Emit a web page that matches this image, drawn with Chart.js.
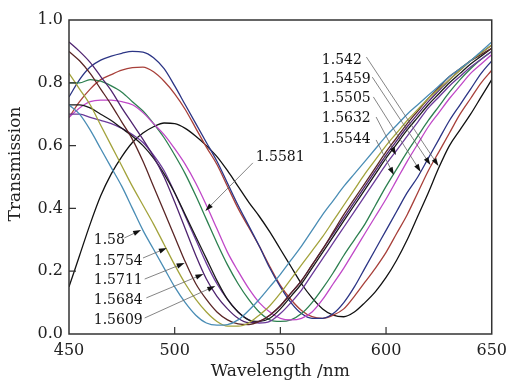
<!DOCTYPE html>
<html>
<head>
<meta charset="utf-8">
<script src="https://cdn.jsdelivr.net/npm/chart.js@4/dist/chart.umd.min.js"></script>
<style>
  html, body { margin: 0; padding: 0; background: #fff; }
</style>
</head>
<body>
<canvas id="grafico-transmissao" width="514" height="385"></canvas>
<script>
// Wavelength grid (nm)
const wavelengths = [450, 455, 460, 465, 470, 475, 480, 485, 490, 495, 500, 505, 510, 515, 520, 525, 530, 535, 540, 545,
  550, 555, 560, 565, 570, 575, 580, 585, 590, 595, 600, 605, 610, 615, 620, 625, 630, 635, 640, 645, 650];

// Transmission curves, one per refractive index
const n1580 = [0.73, 0.70, 0.65, 0.59, 0.53, 0.47, 0.40, 0.33, 0.27, 0.21, 0.15, 0.10, 0.06, 0.035, 0.028, 0.03, 0.045, 0.075, 0.11, 0.15,
  0.19, 0.235, 0.28, 0.33, 0.38, 0.425, 0.47, 0.51, 0.55, 0.59, 0.63, 0.665, 0.70, 0.73, 0.76, 0.79, 0.82, 0.845, 0.87, 0.90, 0.93];
const n15754 = [0.83, 0.78, 0.73, 0.665, 0.60, 0.535, 0.47, 0.41, 0.35, 0.285, 0.22, 0.16, 0.11, 0.07, 0.04, 0.025, 0.025, 0.035, 0.06, 0.09,
  0.13, 0.175, 0.22, 0.265, 0.31, 0.36, 0.41, 0.46, 0.51, 0.555, 0.60, 0.64, 0.68, 0.715, 0.75, 0.78, 0.81, 0.84, 0.87, 0.895, 0.92];
const n15711 = [0.90, 0.87, 0.83, 0.78, 0.73, 0.675, 0.62, 0.55, 0.47, 0.39, 0.31, 0.23, 0.16, 0.11, 0.07, 0.045, 0.032, 0.03, 0.04, 0.06,
  0.09, 0.13, 0.17, 0.22, 0.27, 0.325, 0.38, 0.43, 0.48, 0.53, 0.58, 0.625, 0.67, 0.71, 0.75, 0.785, 0.82, 0.845, 0.87, 0.89, 0.91];
const n15684 = [0.93, 0.90, 0.865, 0.82, 0.775, 0.72, 0.67, 0.62, 0.565, 0.50, 0.42, 0.335, 0.25, 0.175, 0.12, 0.08, 0.05, 0.036, 0.04, 0.06,
  0.09, 0.13, 0.17, 0.22, 0.27, 0.32, 0.37, 0.42, 0.47, 0.52, 0.57, 0.615, 0.66, 0.70, 0.74, 0.775, 0.81, 0.84, 0.87, 0.895, 0.92];
const n15632 = [0.73, 0.73, 0.72, 0.70, 0.68, 0.655, 0.63, 0.60, 0.56, 0.51, 0.45, 0.38, 0.31, 0.24, 0.17, 0.11, 0.07, 0.045, 0.04, 0.05,
  0.08, 0.12, 0.16, 0.21, 0.26, 0.31, 0.36, 0.41, 0.46, 0.51, 0.56, 0.605, 0.65, 0.69, 0.73, 0.765, 0.80, 0.83, 0.86, 0.885, 0.91];
const n15609 = [0.70, 0.70, 0.69, 0.68, 0.67, 0.655, 0.635, 0.61, 0.57, 0.52, 0.45, 0.375, 0.30, 0.225, 0.16, 0.11, 0.07, 0.045, 0.035, 0.04,
  0.065, 0.10, 0.14, 0.19, 0.24, 0.29, 0.34, 0.39, 0.44, 0.49, 0.54, 0.585, 0.63, 0.675, 0.72, 0.755, 0.79, 0.82, 0.85, 0.875, 0.90];
const n15581 = [0.69, 0.72, 0.74, 0.745, 0.745, 0.74, 0.73, 0.705, 0.67, 0.635, 0.59, 0.54, 0.48, 0.41, 0.335, 0.26, 0.20, 0.145, 0.10, 0.07,
  0.05, 0.045, 0.05, 0.07, 0.11, 0.16, 0.21, 0.265, 0.32, 0.375, 0.43, 0.49, 0.55, 0.605, 0.66, 0.705, 0.75, 0.79, 0.83, 0.86, 0.89];
const n15544 = [0.80, 0.80, 0.81, 0.805, 0.79, 0.77, 0.74, 0.71, 0.67, 0.625, 0.57, 0.51, 0.44, 0.365, 0.29, 0.22, 0.16, 0.11, 0.07, 0.045,
  0.04, 0.045, 0.065, 0.10, 0.145, 0.195, 0.25, 0.30, 0.35, 0.41, 0.47, 0.525, 0.58, 0.63, 0.68, 0.725, 0.77, 0.81, 0.845, 0.875, 0.90];
const n15505 = [0.755, 0.81, 0.85, 0.872, 0.885, 0.894, 0.90, 0.898, 0.88, 0.845, 0.79, 0.73, 0.67, 0.61, 0.55, 0.48, 0.41, 0.345, 0.28, 0.21,
  0.15, 0.10, 0.065, 0.05, 0.05, 0.065, 0.10, 0.15, 0.21, 0.27, 0.33, 0.39, 0.45, 0.50, 0.56, 0.62, 0.68, 0.73, 0.78, 0.83, 0.87];
const n15459 = [0.69, 0.74, 0.78, 0.81, 0.826, 0.84, 0.848, 0.85, 0.835, 0.805, 0.765, 0.715, 0.655, 0.595, 0.54, 0.47, 0.40, 0.34, 0.28, 0.215,
  0.155, 0.11, 0.075, 0.055, 0.05, 0.06, 0.08, 0.12, 0.165, 0.21, 0.26, 0.32, 0.38, 0.45, 0.52, 0.58, 0.64, 0.70, 0.75, 0.80, 0.84];
const n1542 = [0.15, 0.25, 0.35, 0.44, 0.51, 0.565, 0.61, 0.64, 0.66, 0.672, 0.67, 0.655, 0.63, 0.60, 0.565, 0.52, 0.47, 0.42, 0.375, 0.325,
  0.27, 0.215, 0.16, 0.115, 0.08, 0.06, 0.055, 0.07, 0.10, 0.135, 0.18, 0.235, 0.30, 0.375, 0.45, 0.53, 0.60, 0.65, 0.70, 0.755, 0.81];

const curves = [n1580, n15754, n15711, n15684, n15632, n15609, n15581, n15544, n15505, n15459, n1542];
const curveColors = ['#4a8db5', '#a3a33c', '#5a2626', '#4f2470', '#1a1a1a', '#6b3a9a', '#c048c8', '#2d8050', '#2c3585', '#a8403a', '#111111'];

// Axis ticks
const xTickValues = [500, 550, 600];
const yTickValues = [0.2, 0.4, 0.6, 0.8];

// Refractive index labels: text anchor, arrow tail and arrow tip (data units)
const labelTexts = ['1.542', '1.5459', '1.5505', '1.5632', '1.5544', '1.5581', '1.58', '1.5754', '1.5711', '1.5684', '1.5609'];
const labelAt = [[569.6, 0.873], [569.6, 0.812], [569.6, 0.752], [569.6, 0.688], [569.6, 0.621], [538.3, 0.564],
  [461.7, 0.299], [461.7, 0.232], [461.7, 0.172], [461.7, 0.108], [461.7, 0.045]];
const arrowFrom = [[590.7, 0.882], [593.5, 0.818], [594.0, 0.755], [595.3, 0.691], [595.3, 0.618], [537.0, 0.545],
  [476.2, 0.306], [485.0, 0.242], [485.8, 0.175], [486.6, 0.115], [485.8, 0.051]];
const arrowTo = [[624.8, 0.535], [621.0, 0.538], [616.4, 0.516], [604.7, 0.570], [603.7, 0.506], [514.5, 0.392],
  [484.1, 0.331], [496.3, 0.274], [504.7, 0.226], [513.6, 0.191], [519.2, 0.153]];

const serif = '"DejaVu Serif", "Liberation Serif", serif';

// frame, inward ticks, y title, labels and arrows
const molduraPlugin = {
  id: 'moldura',
  afterDraw(chart) {
    const { ctx, chartArea: a, scales: { x, y } } = chart;
    ctx.save();
    ctx.strokeStyle = '#333';
    ctx.lineWidth = 1.5;
    ctx.strokeRect(a.left, a.top, a.right - a.left, a.bottom - a.top);

    ctx.lineWidth = 1.2;
    ctx.beginPath();
    xTickValues.forEach(v => {
      const px = x.getPixelForValue(v);
      ctx.moveTo(px, a.bottom);
      ctx.lineTo(px, a.bottom - 7);
    });
    yTickValues.forEach(v => {
      const py = y.getPixelForValue(v);
      ctx.moveTo(a.left, py);
      ctx.lineTo(a.left + 7, py);
    });
    ctx.stroke();

    // y axis title, sits a bit above the middle in the original
    ctx.save();
    ctx.translate(16, 164);
    ctx.rotate(-Math.PI / 2);
    ctx.font = '17px ' + serif;
    ctx.fillStyle = '#222';
    ctx.textAlign = 'center';
    ctx.textBaseline = 'middle';
    ctx.fillText('Transmission', 0, 0);
    ctx.restore();

    ctx.font = '14px ' + serif;
    ctx.fillStyle = '#111';
    ctx.textAlign = 'left';
    ctx.textBaseline = 'middle';
    labelTexts.forEach((t, i) => {
      ctx.fillText(t, x.getPixelForValue(labelAt[i][0]), y.getPixelForValue(labelAt[i][1]));

      const x0 = x.getPixelForValue(arrowFrom[i][0]), y0 = y.getPixelForValue(arrowFrom[i][1]);
      const x1 = x.getPixelForValue(arrowTo[i][0]), y1 = y.getPixelForValue(arrowTo[i][1]);
      const ang = Math.atan2(y1 - y0, x1 - x0);
      ctx.strokeStyle = '#666';
      ctx.lineWidth = 0.8;
      ctx.beginPath();
      ctx.moveTo(x0, y0);
      ctx.lineTo(x1 - 6 * Math.cos(ang), y1 - 6 * Math.sin(ang));
      ctx.stroke();
      // arrow head
      ctx.beginPath();
      ctx.moveTo(x1, y1);
      ctx.lineTo(x1 - 8 * Math.cos(ang) + 2.6 * Math.sin(ang), y1 - 8 * Math.sin(ang) - 2.6 * Math.cos(ang));
      ctx.lineTo(x1 - 8 * Math.cos(ang) - 2.6 * Math.sin(ang), y1 - 8 * Math.sin(ang) + 2.6 * Math.cos(ang));
      ctx.closePath();
      ctx.fill();
    });
    ctx.restore();
  }
};

const ctxT = document.getElementById('grafico-transmissao').getContext('2d');
const transmissaoChart = new Chart(ctxT, {
  type: 'line',
  data: {
    datasets: curves.map((vals, i) => ({
      label: labelTexts[i],
      data: wavelengths.map((w, j) => ({ x: w, y: vals[j] })),
      borderColor: curveColors[i],
      borderWidth: 1.3,
      pointRadius: 0,
      fill: false,
      cubicInterpolationMode: 'monotone'
    }))
  },
  options: {
    responsive: false,
    animation: false,
    layout: { padding: { top: 20, right: 17, left: 0, bottom: 0 } },
    plugins: {
      legend: { display: false },
      tooltip: { enabled: false }
    },
    scales: {
      x: {
        type: 'linear',
        min: 450,
        max: 650,
        afterFit: s => { s.height = 51; },
        grid: { display: false, drawTicks: false },
        border: { display: false },
        ticks: { stepSize: 50, padding: 7, color: '#222', font: { family: serif, size: 16 } },
        title: {
          display: true,
          text: 'Wavelength /nm',
          color: '#222',
          font: { family: serif, size: 17 },
          padding: { top: 0, bottom: 3 }
        }
      },
      y: {
        min: 0,
        max: 1,
        afterFit: s => { s.width = 69; },
        grid: { display: false, drawTicks: false },
        border: { display: false },
        ticks: {
          stepSize: 0.2,
          padding: 6,
          color: '#222',
          font: { family: serif, size: 16 },
          callback: v => v.toFixed(1)
        },
        title: { display: false }
      }
    }
  },
  plugins: [molduraPlugin]
});
</script>
</body>
</html>
